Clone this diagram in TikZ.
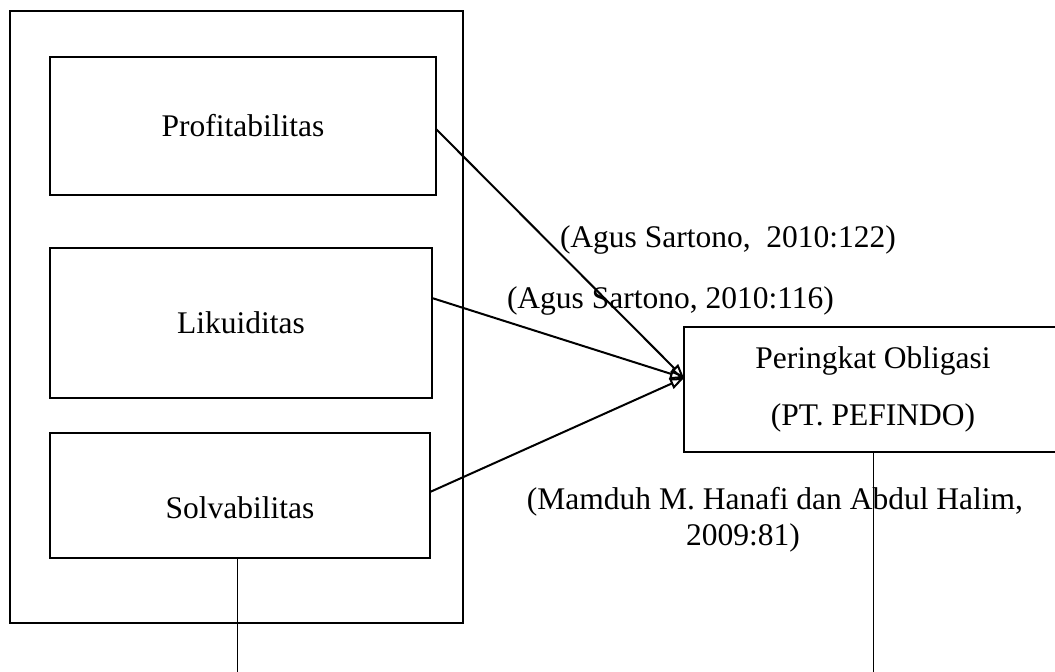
\documentclass[tikz,border=0pt]{standalone}
\usepackage{fontspec}
\setmainfont{Liberation Serif}
\usetikzlibrary{arrows.meta,calc}
\begin{document}
\begin{tikzpicture}[x=1pt,y=-1pt,
  txt/.style={font=\fontsize{31.5}{36}\selectfont, inner sep=0pt, outer sep=0pt},
  frame/.style={draw, line width=2pt, inner sep=0pt, outer sep=0pt, font=\fontsize{31.5}{36}\selectfont, align=center},
  conn/.style={line width=2pt, -{Triangle[open,length=14pt,width=11pt]}},
  thinline/.style={line width=1pt}]
\useasboundingbox (0,0) rectangle (1055,672);
\fill[white] (0,0) rectangle (1055,672);
\node[frame, minimum width=453pt, minimum height=612pt] (outer) at (236.5,317) {};
\node[frame, minimum width=386pt, minimum height=138pt] (prof) at (243,126) {Profitabilitas};
\node[frame, minimum width=382pt, minimum height=150pt] (lik) at (241,323) {Likuiditas};
\node[frame, minimum width=380pt, minimum height=125pt] (solv) at (240,495.5) {};
\node[txt] (solvt) at (240,508) {Solvabilitas};
\node[frame, minimum width=378pt, minimum height=125pt] (per) at (873,389.5) {};
\node[txt] (pert1) at (873,360.5) {Peringkat Obligasi};
\node[txt] (pert2) at (873,418) {(PT. PEFINDO)};
\node[txt, anchor=west] (lab1) at (560,240) {(Agus Sartono,\ \ 2010:122)};
\node[txt, anchor=west] (lab2) at (507,301) {(Agus Sartono, 2010:116)};
\node[txt, anchor=east] (lab3) at (1023,502) {(Mamduh M. Hanafi dan Abdul Halim,};
\node[txt, anchor=west] (lab4) at (686,538) {2009:81)};
\coordinate (tip) at ([yshift=11.5pt]per.west);
\draw[conn] ([yshift=-3pt]prof.east) -- (tip);
\draw[conn] ([yshift=-50pt]lik.north east) -- (tip);
\draw[conn] ([yshift=3.5pt]solv.east) -- (tip);
\coordinate (e1) at (237,672);
\coordinate (e2) at (873,672);
\draw[thinline] (solv.south -| e1) -- (e1);
\draw[thinline] (per.south) -- (e2);
\end{tikzpicture}
\end{document}
